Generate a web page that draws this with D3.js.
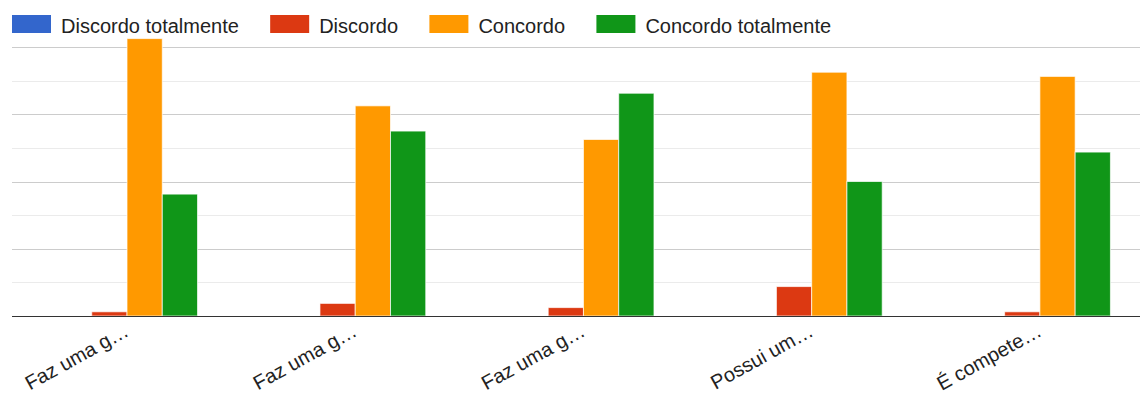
<!DOCTYPE html>
<html>
<head>
<meta charset="utf-8">
<script src="https://cdnjs.cloudflare.com/ajax/libs/d3/7.8.5/d3.min.js"></script>
<style>
  html, body { margin: 0; padding: 0; background: #fff; }
  svg { display: block; }
  text { font-family: "Liberation Sans", Arial, sans-serif; }
</style>
</head>
<body>
<svg id="chart" width="1140" height="394"></svg>
<script>
// ---- data ----
const categories = ["Faz uma g…", "Faz uma g…", "Faz uma g…", "Possui um…", "É compete…"];
const seriesNames = ["Discordo totalmente", "Discordo", "Concordo", "Concordo totalmente"];
const discordoTotalmente = [0, 0, 0, 0, 0];
const discordo = [1, 3, 2, 7, 1];
const concordo = [66, 50, 42, 58, 57];
const concordoTotalmente = [29, 44, 53, 32, 39];
const gridTicks = [8, 16, 24, 32, 40, 48, 56, 64];
const majorTicks = [16, 32, 48, 64];
const colors = ["#3366cc", "#dc3912", "#ff9900", "#109618"];

const seriesValues = [discordoTotalmente, discordo, concordo, concordoTotalmente];

const svg = d3.select("#chart");
const W = 1140, H = 394;
const plotLeft = 12.9, plotRight = 1154, baseY = 316, topY = 47;

const y = d3.scaleLinear().domain([0, 64]).range([baseY, topY]);
const x0 = d3.scaleBand().domain(d3.range(categories.length))
  .range([plotLeft, plotRight]).paddingInner(0.382).paddingOuter(0.191);
const x1 = d3.scaleBand().domain(d3.range(seriesNames.length))
  .range([0, x0.bandwidth()]).padding(0);

// gridlines
svg.append("g").selectAll("line").data(gridTicks).join("line")
  .attr("x1", 12).attr("x2", W)
  .attr("y1", d => Math.round(y(d)) + 0.5).attr("y2", d => Math.round(y(d)) + 0.5)
  .attr("stroke", d => majorTicks.includes(d) ? "#cccccc" : "#ebebeb")
  .attr("stroke-width", 1);

// bars
const groups = svg.append("g").selectAll("g").data(categories).join("g")
  .attr("transform", (d, i) => `translate(${x0(i)},0)`);
groups.selectAll("rect")
  .data((d, i) => seriesValues.map((vals, s) => ({ s, v: vals[i] })))
  .join("rect")
  .filter(d => d.v > 0)
  .attr("x", d => x1(d.s))
  .attr("width", x1.bandwidth())
  .attr("y", d => y(d.v))
  .attr("height", d => baseY - y(d.v))
  .attr("fill", d => colors[d.s])
  .attr("stroke", "#ffffff")
  .attr("stroke-opacity", 0.7)
  .attr("stroke-width", 1);

// baseline
svg.append("line")
  .attr("x1", 12).attr("x2", W)
  .attr("y1", baseY + 0.5).attr("y2", baseY + 0.5)
  .attr("stroke", "#333333").attr("stroke-width", 1);

// category labels (slanted)
svg.append("g").selectAll("text").data(categories).join("text")
  .attr("transform", (d, i) => `translate(${x0(i) + x0.bandwidth() / 2 + 3},335) rotate(-29)`)
  .attr("text-anchor", "end")
  .attr("font-size", 20)
  .attr("fill", "#222222")
  .text(d => d);

// legend
const legend = svg.append("g");
let lx = 12;
seriesNames.forEach((name, i) => {
  legend.append("rect")
    .attr("x", lx).attr("y", 15).attr("width", 39).attr("height", 18)
    .attr("fill", colors[i]);
  const t = legend.append("text")
    .attr("x", lx + 49).attr("y", 32.5)
    .attr("font-size", 20).attr("fill", "#222222")
    .text(name);
  lx = lx + 49 + t.node().getComputedTextLength() + 31.3;
});
</script>
</body>
</html>
